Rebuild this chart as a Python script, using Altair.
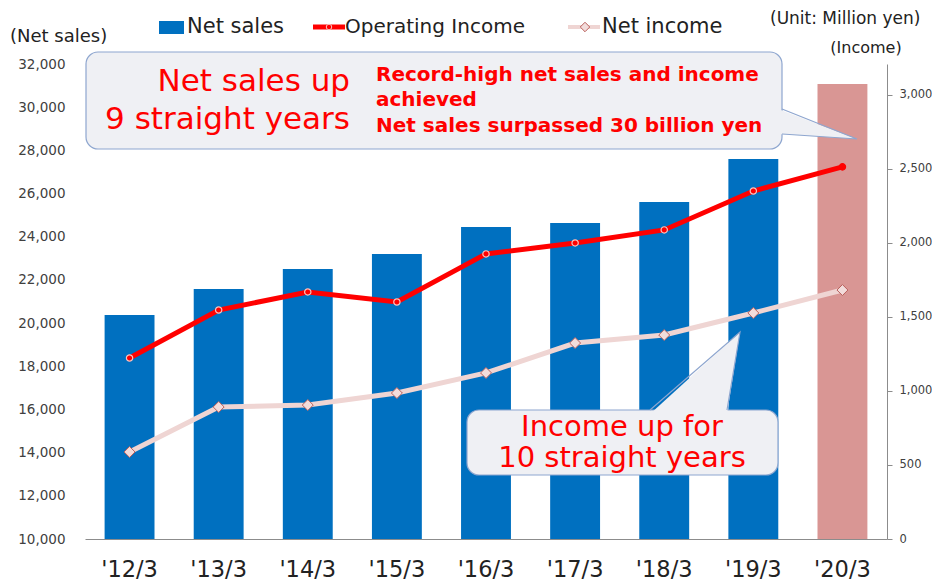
import altair as alt
import pandas as pd

# ---------------- data ----------------
years = ["'12/3", "'13/3", "'14/3", "'15/3", "'16/3", "'17/3", "'18/3", "'19/3", "'20/3"]
net_sales = [20380, 21580, 22500, 23200, 24450, 24640, 25610, 27600, 31070]
operating_income = [1223, 1547, 1669, 1601, 1926, 2000, 2088, 2351, 2514]
net_income = [588, 892, 905, 986, 1122, 1324, 1378, 1527, 1682]
period_kind = ["actual"] * 8 + ["forecast"]

sales_ticks = list(range(10000, 32001, 2000))
income_ticks = list(range(0, 3001, 500))

legend_labels = ["Net sales", "Operating Income", "Net income"]
callout1_big = ["Net sales up", "9 straight years"]
callout1_bold = ["Record-high net sales and income", "achieved", "Net sales surpassed 30 billion yen"]
callout2_text = ["Income up for", "10 straight years"]
unit_text = "(Unit: Million yen)"
left_title = "(Net sales)"
right_title = "(Income)"

df = pd.DataFrame({
    "year": years,
    "net_sales": net_sales,
    "op": operating_income,
    "net": net_income,
    "kind": period_kind,
})
one = pd.DataFrame({"i": [0]})

FONT = "DejaVu Sans"
W, H = 802, 475
BLUE = "#0070C0"
FORECAST = "#D99694"
RED = "#FF0000"
PINK = "#EFD5D3"
BOX_FILL = "#EFF0F4"
BOX_STROKE = "#8EA6CF"

x_enc = alt.X(
    "year:N", sort=years,
    scale=alt.Scale(paddingInner=0.44, paddingOuter=0.22),
    axis=alt.Axis(title=None, labelAngle=0, ticks=False, domainColor="#8c8c8c",
                  labelFontSize=22.5, labelColor="#222222", labelPadding=19, labelFont=FONT,
                  grid=False),
)

base = alt.Chart(df)

bars = base.mark_bar().encode(
    x=x_enc,
    y=alt.Y("net_sales:Q",
            scale=alt.Scale(domain=[10000, 32000], zero=False, nice=False),
            axis=alt.Axis(title=None, values=sales_ticks, format=",d", ticks=False, domain=False,
                          grid=False, labelFontSize=13.5, labelColor="#404040", labelPadding=20,
                          labelFont=FONT, orient="left")),
    y2=alt.datum(10000),
    color=alt.Color("kind:N", scale=alt.Scale(domain=["actual", "forecast"], range=[BLUE, FORECAST]),
                    legend=None),
)

iscale = alt.Scale(domain=[0, 3209], nice=False, zero=True)
iaxis = alt.Axis(orient="right", title=None, values=income_ticks, format=",d", tickSize=5,
                 tickColor="#8c8c8c", domainColor="#8c8c8c", labelFontSize=11.5, labelColor="#404040",
                 labelPadding=7, grid=False, labelFont=FONT)

net_line = base.mark_line(color=PINK, strokeWidth=5).encode(
    x=x_enc, y=alt.Y("net:Q", scale=iscale, axis=iaxis))
net_pts = base.mark_point(shape="diamond", filled=True, size=120, fill="#F2DCDB",
                          stroke="#B9605C", strokeWidth=1, opacity=1).encode(
    x=x_enc, y=alt.Y("net:Q", scale=iscale, axis=iaxis))
op_line = base.mark_line(color=RED, strokeWidth=5).encode(
    x=x_enc, y=alt.Y("op:Q", scale=iscale, axis=iaxis))
op_pts = base.mark_point(filled=True, size=40, strokeWidth=1.2, opacity=1).encode(
    x=x_enc, y=alt.Y("op:Q", scale=iscale, axis=iaxis),
    fill=alt.value(RED),
    stroke=alt.Stroke("kind:N", scale=alt.Scale(domain=["actual", "forecast"],
                                                range=["#F6C4C0", RED]), legend=None),
)
income = alt.layer(net_line, net_pts, op_line, op_pts)

ann = alt.Chart(one)


def text(s, x, y, size, align="left", color="#222222", weight="normal"):
    return ann.mark_text(align=align, baseline="middle", fontSize=size, font=FONT,
                         color=color, fontWeight=weight).encode(
        x=alt.value(x), y=alt.value(y), text=alt.value(s))


# callout 1
box1 = ann.mark_rect(cornerRadius=12, fill=BOX_FILL, stroke=BOX_STROKE, strokeWidth=1.2).encode(
    x=alt.value(1), x2=alt.value(697), y=alt.value(-12), y2=alt.value(85))
tail1_fill = ann.mark_point(shape="M693,45L772,75L693,70Z", size=4, filled=True, fill=BOX_FILL,
                            strokeWidth=0, opacity=1).encode(x=alt.value(0), y=alt.value(0))
tail1_line = ann.mark_point(shape="M697,45L772,75L697,70", size=4, filled=False, stroke=BOX_STROKE,
                            strokeWidth=1.2, opacity=1).encode(x=alt.value(0), y=alt.value(0))
c1 = [
    text(callout1_big[0], 265, 18, 31, align="right", color=RED),
    text(callout1_big[1], 265, 56, 31, align="right", color=RED),
    text(callout1_bold[0], 291, 11, 20, color=RED, weight="bold"),
    text(callout1_bold[1], 291, 36, 20, color=RED, weight="bold"),
    text(callout1_bold[2], 291, 62, 20, color=RED, weight="bold"),
]

# callout 2
box2 = ann.mark_rect(cornerRadius=12, fill=BOX_FILL, stroke=BOX_STROKE, strokeWidth=1.2).encode(
    x=alt.value(382), x2=alt.value(693), y=alt.value(346), y2=alt.value(411))
tail2_fill = ann.mark_point(shape="M565,350L655,268L642,350Z", size=4, filled=True, fill=BOX_FILL,
                            strokeWidth=0, opacity=1).encode(x=alt.value(0), y=alt.value(0))
tail2_line = ann.mark_point(shape="M565,346L655,268L642,346", size=4, filled=False, stroke=BOX_STROKE,
                            strokeWidth=1.2, opacity=1).encode(x=alt.value(0), y=alt.value(0))
c2 = [
    text(callout2_text[0], 537, 363, 29, align="center", color=RED),
    text(callout2_text[1], 537, 394, 29, align="center", color=RED),
]

# custom legend
leg_sq = ann.mark_rect(color=BLUE).encode(
    x=alt.value(74), x2=alt.value(99), y=alt.value(-43), y2=alt.value(-30))
leg_op_line = ann.mark_rule(color=RED, strokeWidth=5).encode(
    x=alt.value(228), x2=alt.value(260), y=alt.value(-37))
leg_op_pt = ann.mark_point(filled=True, size=30, fill=RED, stroke="#F6C4C0", strokeWidth=1,
                           opacity=1).encode(x=alt.value(244), y=alt.value(-37))
leg_net_line = ann.mark_rule(color=PINK, strokeWidth=4).encode(
    x=alt.value(483), x2=alt.value(515), y=alt.value(-37))
leg_net_pt = ann.mark_point(shape="diamond", filled=True, size=90, fill="#F2DCDB", stroke="#B9605C",
                            strokeWidth=1, opacity=1).encode(x=alt.value(500), y=alt.value(-37))
legend = [
    leg_sq, leg_op_line, leg_op_pt, leg_net_line, leg_net_pt,
    text(legend_labels[0], 102, -37, 21),
    text(legend_labels[1], 260, -37, 20),
    text(legend_labels[2], 517, -37, 21),
]

titles = [
    text(left_title, -75, -27, 18),
    text(unit_text, 685, -45, 17),
    text(right_title, 781, -16, 16, align="center"),
]

chart = alt.layer(
    bars, income, box1, tail1_fill, tail1_line, *c1, box2, tail2_fill, tail2_line, *c2,
    *legend, *titles,
).resolve_scale(y="independent").properties(
    width=W, height=H,
    autosize=alt.AutoSizeParams(type="none"),
    padding={"left": 77, "top": 56, "right": 45, "bottom": 41},
    background="white",
).configure_view(stroke=None)

chart.save("out.html", embed_options={"renderer": "svg", "actions": False})
